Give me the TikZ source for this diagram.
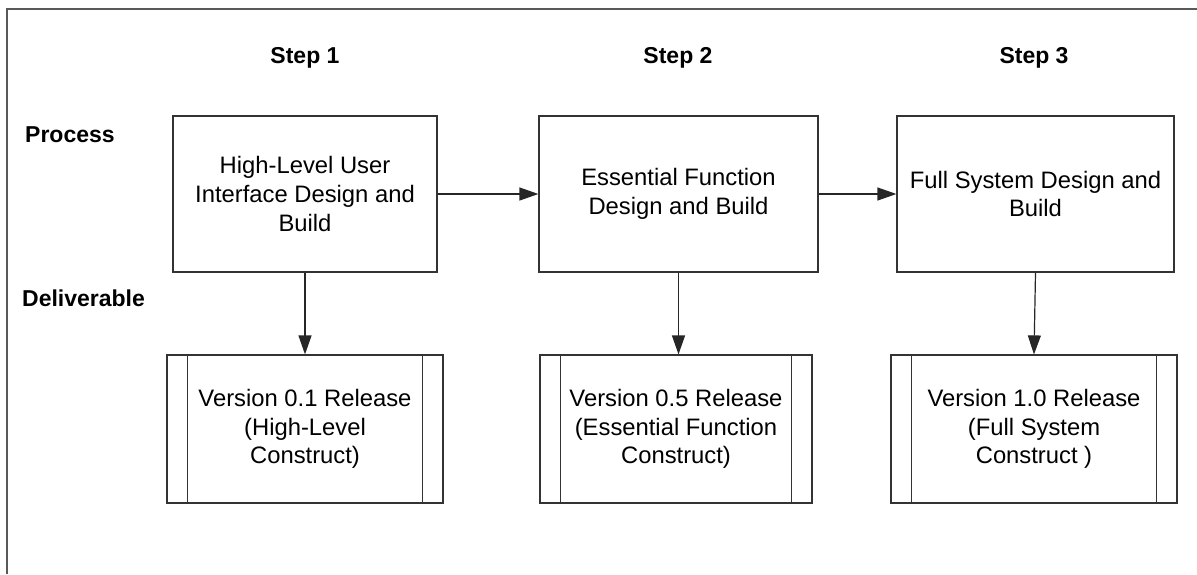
\documentclass[tikz,border=0pt]{standalone}
\usepackage{fontspec}
\setmainfont{Liberation Sans}
\usetikzlibrary{arrows.meta}
\tikzset{
  procbox/.style={draw=black!80, line width=1.2pt, fill=white, align=center,
    inner sep=0pt, font=\fontsize{23.8}{28.8}\selectfont},
  delbox/.style={procbox},
  hdr/.style={font=\bfseries\fontsize{23}{28}\selectfont, inner sep=0pt},
  conn/.style={draw=black!85, line width=1.2pt, -{Triangle[length=19pt,width=13pt]}},
  frame/.style={draw=black!65, line width=1.6pt}
}
\begin{document}
\begin{tikzpicture}[x=1pt, y=-1pt]
\useasboundingbox (0,0) rectangle (1197,574);
% frame
\coordinate (fTR) at (1197,9);
\coordinate (fTL) at (7,9);
\coordinate (fBL) at (7,574);
\draw[frame] (fTR) -- (fTL) -- (fBL);
% headers
\node[hdr] (s1) at (305,58) {Step 1};
\node[hdr] (s2) at (678,58) {Step 2};
\node[hdr] (s3) at (1034,58) {Step 3};
\node[hdr, anchor=west] (lp) at (25,135) {Process};
\node[hdr, anchor=west] (ld) at (22,298) {Deliverable};
% process boxes
\node[procbox, minimum width=264pt, minimum height=156pt] (p1) at (305,194)
  {High-Level User\\Interface Design and\\Build};
\node[procbox, minimum width=279pt, minimum height=156pt] (p2) at (678.5,194)
  {Essential Function\\Design and Build};
\node[procbox, minimum width=277pt, minimum height=156pt] (p3) at (1035.5,194)
  {Full System Design and\\Build};
% deliverable boxes
\node[delbox, minimum width=276pt, minimum height=148pt] (d1) at (305,429)
  {Version 0.1 Release\\(High-Level\\Construct)};
\node[delbox, minimum width=272pt, minimum height=148pt] (d2) at (676,429)
  {Version 0.5 Release\\(Essential Function\\Construct)};
\node[delbox, minimum width=286pt, minimum height=148pt] (d3) at (1034,429)
  {Version 1.0 Release\\(Full System\\Construct )};
% inner side bars
\foreach \n in {d1,d2,d3}{
  \draw[draw=black!80, line width=1.2pt] ([xshift=21pt]\n.north west) -- ([xshift=21pt]\n.south west);
  \draw[draw=black!80, line width=1.2pt] ([xshift=-21pt]\n.north east) -- ([xshift=-21pt]\n.south east);
}
% connectors
\draw[conn] (p1.east) -- (p2.west);
\draw[conn] (p2.east) -- (p3.west);
\draw[conn] (p1.south) -- (p1.south |- d1.north);
\draw[conn] (p2.south) -- (p2.south |- d2.north);
\draw[conn] (p3.south) -- ([xshift=-1.5pt]p3.south |- d3.north);
\end{tikzpicture}
\end{document}
